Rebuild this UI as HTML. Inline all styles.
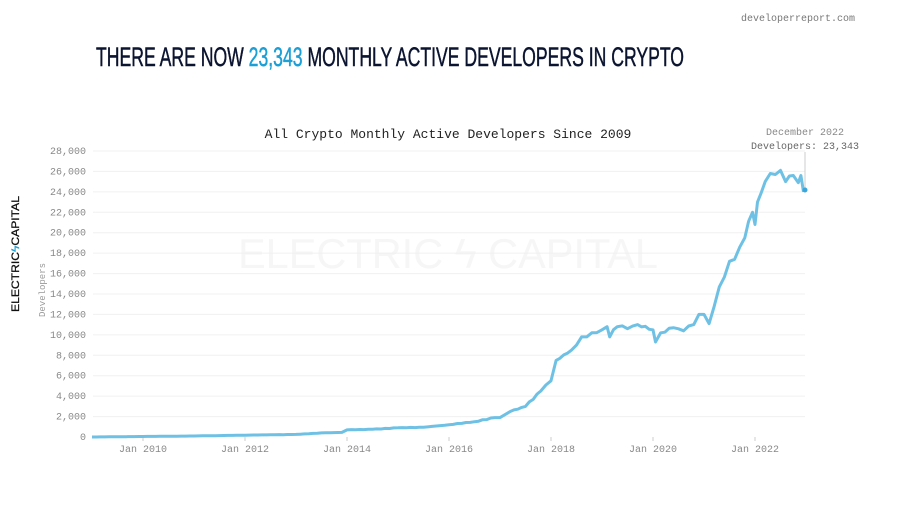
<!DOCTYPE html>
<html><head><meta charset="utf-8"><style>
body{margin:0;background:#fff;width:898px;height:505px;overflow:hidden;font-family:"Liberation Sans",sans-serif}
</style></head><body>
<svg width="898" height="505" xmlns="http://www.w3.org/2000/svg">
<text x="855" y="21" font-family="Liberation Mono,monospace" font-size="10" fill="#777" text-anchor="end">developerreport.com</text>
<text x="96" y="66" font-family="Liberation Sans Narrow,Liberation Sans,sans-serif" font-size="27" fill="#0b1430" stroke="#0b1430" stroke-width="0.5" textLength="588" lengthAdjust="spacingAndGlyphs">THERE ARE NOW <tspan fill="#1a9fd6" stroke="#1a9fd6">23,343</tspan> MONTHLY ACTIVE DEVELOPERS IN CRYPTO</text>
<text x="448" y="138" font-family="Liberation Mono,monospace" font-size="13" fill="#222" text-anchor="middle">All Crypto Monthly Active Developers Since 2009</text>
<text x="805" y="135" font-family="Liberation Mono,monospace" font-size="10" fill="#888" text-anchor="middle">December 2022</text>
<text x="805" y="149" font-family="Liberation Mono,monospace" font-size="10" fill="#666" text-anchor="middle">Developers: 23,343</text>
<text transform="translate(19,254) rotate(-90)" font-size="11" fill="#111" stroke="#111" stroke-width="0.3" text-anchor="middle" textLength="116" lengthAdjust="spacingAndGlyphs">ELECTRIC<tspan fill="#1a9fd6" stroke="#1a9fd6">ϟ</tspan>CAPITAL</text>
<text transform="translate(45,290) rotate(-90)" font-family="Liberation Mono,monospace" font-size="9" fill="#999" text-anchor="middle">Developers</text>
<text x="448" y="268" font-size="42" fill="#f6f6f6" text-anchor="middle" textLength="420" lengthAdjust="spacingAndGlyphs">ELECTRIC ϟ CAPITAL</text>
<g id="g"></g>
<line x1="805" y1="152" x2="805" y2="188" stroke="#ccc" stroke-width="1"/>
<path id="p" fill="none" stroke="#6ec1e4" stroke-width="3" stroke-linejoin="round"/>
<circle cx="805" cy="190" r="2.5" fill="#3ba6dd"/>
</svg>
<script>
var g=document.getElementById('g');
function Y(v){return 437-v*(286/28000);}function X(y){return 92+(y-2009)*51;}
var h='';
for(var v=0;v<=28000;v+=2000){var y=Y(v);
if(v>0)h+='<line x1="93" x2="805" y1="'+y+'" y2="'+y+'" stroke="#f0f0f0"/>';
h+='<text x="86" y="'+(y+3)+'" font-family="Liberation Mono,monospace" font-size="10" fill="#888" text-anchor="end">'+(v?v.toLocaleString('en-US'):'0')+'</text>';}
for(var yr=2010;yr<=2022;yr+=2){var x=X(yr);h+='<line x1="'+x+'" x2="'+x+'" y1="437" y2="441" stroke="#ccc"/><text x="'+x+'" y="452" font-family="Liberation Mono,monospace" font-size="10" fill="#888" text-anchor="middle">Jan '+yr+'</text>';}
g.innerHTML=h;
var d=[[2009,0],[2011,100],[2012,180],[2013,250],[2013.5,400],[2013.9,450],[2014,700],[2014.5,750],[2015,900],[2015.5,950],[2016,1200],[2016.5,1500],[2016.9,1900],[2017,1900],[2017.2,2500],[2017.5,3000],[2017.8,4500],[2018,5500],[2018.1,7500],[2018.4,8500],[2018.6,9800],[2018.8,10200],[2019,10500],[2019.1,10800],[2019.15,9800],[2019.3,10800],[2019.5,10600],[2019.7,11000],[2020,10500],[2020.05,9300],[2020.15,10200],[2020.4,10700],[2020.6,10400],[2020.8,11000],[2020.9,12000],[2021.0,12000],[2021.1,11100],[2021.2,12800],[2021.3,14700],[2021.5,17200],[2021.6,17400],[2021.8,19500],[2021.95,22000],[2022.0,20800],[2022.05,23000],[2022.2,25000],[2022.3,25800],[2022.4,25700],[2022.5,26100],[2022.6,25000],[2022.75,25600],[2022.85,24900],[2022.9,25600],[2022.95,24000]];
var pts=[];for(var i=0;i<d.length-1;i++){var a=d[i],b=d[i+1],n=Math.max(1,Math.round((b[0]-a[0])*12));for(var k=0;k<n;k++){var t=k/n,val=a[1]+(b[1]-a[1])*t;if(k>0)val*=1+0.02*Math.sin(i*7+k*3.1);pts.push([a[0]+(b[0]-a[0])*t,val]);}}pts.push(d[d.length-1]);
document.getElementById('p').setAttribute('d',pts.map(function(p,i){return (i?'L':'M')+X(p[0]).toFixed(1)+','+Y(p[1]).toFixed(1);}).join(''));
</script>
</body></html>
